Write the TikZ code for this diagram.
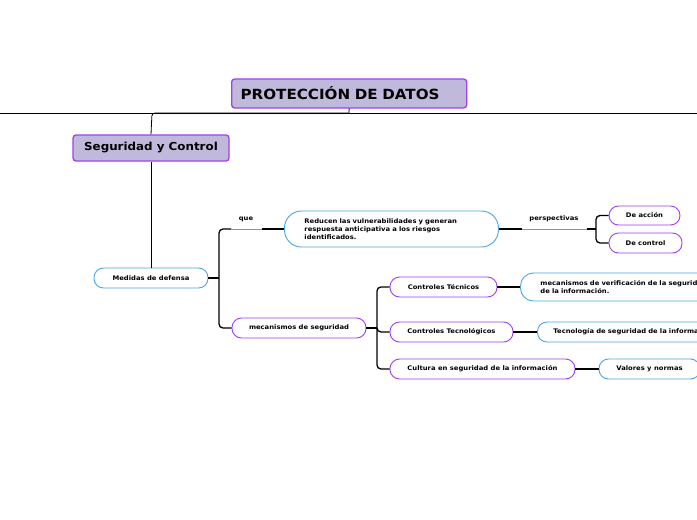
\documentclass[tikz,border=0pt]{standalone}
\usepackage{fontspec}
\setmainfont{DejaVu Sans}[FakeStretch=1.08]
\definecolor{purp}{HTML}{A040EC}
\definecolor{blu}{HTML}{4AA6E4}
\definecolor{lav}{HTML}{C1B9DC}
\begin{document}
\begin{tikzpicture}[x=1pt,y=-1pt,
  font=\bfseries\fontsize{6.3}{8.3}\selectfont,
  conn/.style={draw=black, line width=1.3pt},
  thinconn/.style={draw=black, line width=0.8pt},
  blueseg/.style={draw=blu, line width=1pt},
  topbox/.style={draw=purp, line width=1.3pt, fill=lav, rounded corners=3pt, inner sep=0pt},
  pbox/.style={draw=purp, line width=0.9pt, fill=white, rounded corners=9.5pt, inner sep=0pt, minimum height=20pt},
  bbox/.style={draw=blu, line width=0.9pt, fill=white, rounded corners=9.5pt, inner sep=0pt, minimum height=20pt},
  lbl/.style={inner sep=0pt}
]
\clip (0,0) rectangle (697,520);
\fill[white] (0,0) rectangle (697,520);

% top level
\node[topbox, anchor=west, minimum height=29pt, text width=217pt, align=left, inner xsep=9pt, font=\bfseries\fontsize{14}{16}\selectfont] (title) at (231,93.5) {PROTECCIÓN DE DATOS};
\coordinate (hL) at (0,113);
\coordinate (hR) at (697,113);
\coordinate (hM) at (349,113);
\coordinate (hS) at (152,113);
\draw[thinconn] (hL) -- (hR);
\draw[thinconn] (title.south) -- (hM);

\node[topbox, minimum width=156pt, minimum height=26pt, font=\bfseries\fontsize{11}{13}\selectfont] (seg) at (151,148) {Seguridad y Control};
\draw[thinconn, rounded corners=3pt] (hM) -- (hS) -- (seg.north);

\node[bbox, minimum width=114pt] (med) at (151,278) {Medidas de defensa};
\draw[thinconn] (seg.south) -- (med.north);

% branch 1
\node[bbox, anchor=west, minimum height=36pt, rounded corners=17pt, text width=174pt, align=left, inner xsep=20pt] (red) at (284,229)
  {Reducen las vulnerabilidades y generan\\respuesta anticipativa a los riesgos\\identificados.};
\coordinate (j1) at (219,278);
\coordinate (qa) at (231,229);
\coordinate (qb) at (262,229);
\draw[conn] (med.east) -- (j1);
\draw[conn, rounded corners=4pt] (j1) |- (qa);
\draw[blueseg] (qa) -- (qb);
\node[lbl] (que) at (246,219) {que};
\draw[conn] (qb) -- (red.west);

\node[pbox, minimum width=71pt, minimum height=19pt] (acc) at (644.5,215.5) {De acción};
\node[pbox, minimum width=73pt] (ctl) at (645.5,243) {De control};
\coordinate (pa) at (522,229);
\coordinate (pb) at (587,229);
\coordinate (j2) at (596,229);
\draw[conn] (red.east) -- (pa);
\draw[blueseg] (pa) -- (pb);
\node[lbl] (persp) at (554,219) {perspectivas};
\draw[conn] (pb) -- (j2);
\draw[conn, rounded corners=4pt] (j2) |- (acc.west);
\draw[conn, rounded corners=4pt] (j2) |- (ctl.west);

% branch 2
\node[pbox, minimum width=134pt] (mec) at (299,328) {mecanismos de seguridad};
\draw[conn, rounded corners=4pt] (j1) |- (mec.west);

\node[pbox, minimum width=107pt] (ct) at (443.5,287) {Controles Técnicos};
\node[pbox, minimum width=123pt] (ctn) at (451.5,332) {Controles Tecnológicos};
\node[pbox, minimum width=185pt] (cul) at (482.5,369) {Cultura en seguridad de la información};
\coordinate (j3) at (377,328);
\draw[conn] (mec.east) -- (j3);
\draw[conn, rounded corners=4pt] (j3) |- (ct.west);
\draw[conn, rounded corners=4pt] (j3) |- (ctn.west);
\draw[conn, rounded corners=4pt] (j3) |- (cul.west);

\node[bbox, anchor=west, minimum height=28pt, rounded corners=13pt, text width=200pt, align=left, inner xsep=20pt] (ver) at (520,287)
  {mecanismos de verificación de la seguridad\\de la información.};
\node[bbox, anchor=west, text width=200pt, align=left, inner xsep=16pt] (tec) at (537,332)
  {Tecnología de seguridad de la información};
\node[bbox, minimum width=101pt] (val) at (649.5,369) {Valores y normas};
\draw[conn] (ct.east) -- (ver.west);
\draw[conn] (ctn.east) -- (tec.west);
\draw[conn] (cul.east) -- (val.west);
\end{tikzpicture}
\end{document}
